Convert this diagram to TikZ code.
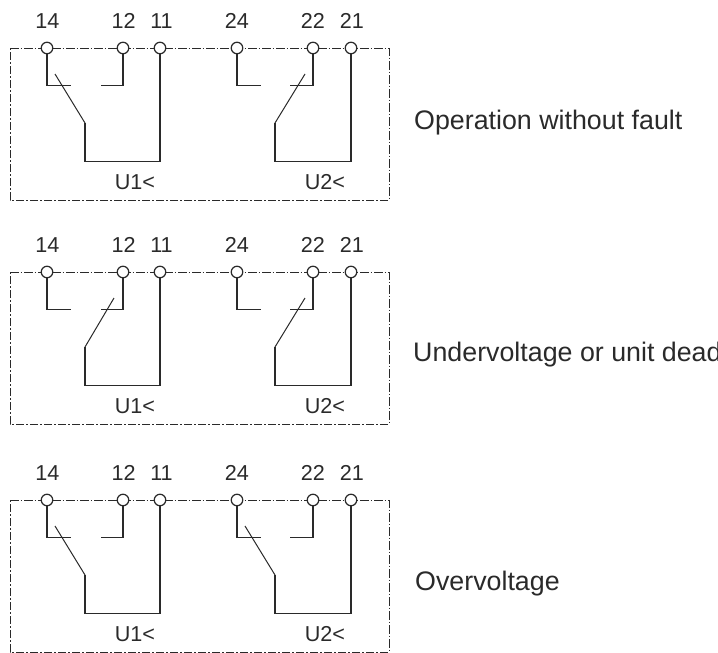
\documentclass[tikz,border=0pt]{standalone}
\usepackage{fontspec}
\setmainfont{Liberation Sans}
\definecolor{ink}{HTML}{2A2A2A}
\tikzset{
  wire/.style={draw=ink,line width=1.1pt,line join=miter},
  lever/.style={draw=ink,line width=1pt},
  frame/.style={draw=ink,line width=0.7pt,dash pattern=on 8.5pt off 2pt on 1.5pt off 2pt},
  term/.style={circle,draw=ink,line width=1.2pt,fill=white,minimum size=11.5pt,inner sep=0pt},
  num/.style={text=ink,font=\fontsize{21.6}{22}\selectfont,anchor=base,inner sep=0pt},
  side/.style={text=ink,font=\fontsize{26.8}{28}\selectfont,anchor=base west,inner sep=0pt}
}
\newcommand{\relaypanel}[4]{%
  % #1 prefix, #2 y offset, #3 tip x of U1 lever, #4 tip x of U2 lever
  \begin{scope}[shift={(0,#2)}]
    \coordinate (#1-a) at (10,48); \coordinate (#1-b) at (389,48);
    \coordinate (#1-c) at (389,200); \coordinate (#1-d) at (10,200);
    \draw[frame] (#1-a) -- (#1-b) -- (#1-c) -- (#1-d) -- cycle;
    \foreach \n/\x/\lx in {14/47/47.5,12/123/123.7,11/160/161.5,24/237/237,22/313/313,21/351/352}{
      \node[term] (#1-t\n) at (\x,48) {};
      \node[num] (#1-l\n) at (\lx,28.3) {\n};
    }
    \coordinate (#1-c14) at (47,85.7); \coordinate (#1-e14) at (71,85.7);
    \coordinate (#1-c12) at (123,85.7); \coordinate (#1-e12) at (101,85.7);
    \coordinate (#1-c24) at (237,85.7); \coordinate (#1-e24) at (261,85.7);
    \coordinate (#1-c22) at (313,85.7); \coordinate (#1-e22) at (290,85.7);
    \draw[wire] (#1-t14) -- (#1-c14) -- (#1-e14);
    \draw[wire] (#1-t12) -- (#1-c12) -- (#1-e12);
    \draw[wire] (#1-t24) -- (#1-c24) -- (#1-e24);
    \draw[wire] (#1-t22) -- (#1-c22) -- (#1-e22);
    \coordinate (#1-h1) at (85,123); \coordinate (#1-f1) at (85,161.5); \coordinate (#1-g1) at (160,161.5);
    \coordinate (#1-h2) at (275,123); \coordinate (#1-f2) at (275,161.5); \coordinate (#1-g2) at (351,161.5);
    \coordinate (#1-p1) at (#3,74); \coordinate (#1-p2) at (#4,74);
    \draw[wire] (#1-t11) -- (#1-g1) -- (#1-f1) -- (#1-h1);
    \draw[wire] (#1-t21) -- (#1-g2) -- (#1-f2) -- (#1-h2);
    \draw[lever] (#1-h1) -- (#1-p1);
    \draw[lever] (#1-h2) -- (#1-p2);
    \node[num] (#1-u1) at (135,189) {U1<};
    \node[num] (#1-u2) at (325,189) {U2<};
  \end{scope}}
\begin{document}
\begin{tikzpicture}[x=1pt,y=-1pt]
  \useasboundingbox (0,0) rectangle (718,653);
  \clip (0,0) rectangle (718,653);
  \relaypanel{A}{0}{55}{305}
  \relaypanel{B}{224}{114}{305}
  \relaypanel{C}{452}{55}{245}
  \node[side] (opA) at (414,129) {Operation without fault};
  \node[side] (opB) at (413,361.7) {Undervoltage or unit dead};
  \node[side] (opC) at (415,590.7) {Overvoltage};
\end{tikzpicture}
\end{document}
